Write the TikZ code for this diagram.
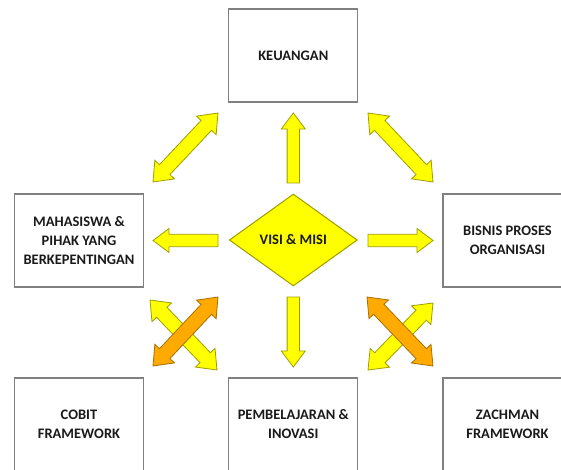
\documentclass[tikz,border=0pt]{standalone}
\usepackage{fontspec}
\setmainfont{Carlito}
\usetikzlibrary{calc,shapes.geometric}
\definecolor{ayellow}{HTML}{FFFF00}
\definecolor{ayedge}{HTML}{9E9E00}
\definecolor{aorange}{HTML}{FFAA00}
\definecolor{aoedge}{HTML}{A87000}
\definecolor{boxedge}{HTML}{808080}
\definecolor{txt}{HTML}{1A1A1A}
\tikzset{
  infobox/.style={draw=boxedge, line width=1.2pt, fill=white, minimum width=129pt, minimum height=93pt,
    inner sep=0pt, align=center, text=txt, font=\bfseries\fontsize{14.5}{19}\selectfont},
  visibox/.style={diamond, draw=ayedge, line width=1pt, fill=ayellow, minimum width=128pt, minimum height=92pt,
    inner sep=0pt, aspect=1.39, text=txt, font=\bfseries\fontsize{14.5}{19}\selectfont},
  yarrow/.style={fill=ayellow, draw=ayedge, line width=0.8pt, line join=miter},
  oarrow/.style={fill=aorange, draw=aoedge, line width=0.8pt, line join=miter},
}
\def\bw{6.2}
\def\bhw{12}
\def\bh{16}
\newcommand\getdir[2]{\path let \p1=($(#2)-(#1)$) in
  \pgfextra{\pgfmathsetmacro\tmpa{atan2(\y1,\x1)}\pgfmathsetmacro\tmpl{veclen(\x1,\y1)}\xdef\baang{\tmpa}\xdef\balen{\tmpl}};}
\newcommand\singlearrow[3]{\getdir{#2}{#3}%
  \begin{scope}[shift={(#2)},rotate=\baang]
  \filldraw[#1] (0,-\bw) -- (\balen-\bh,-\bw) -- (\balen-\bh,-\bhw) -- (\balen,0) -- (\balen-\bh,\bhw) -- (\balen-\bh,\bw) -- (0,\bw) -- cycle;
  \end{scope}}
\newcommand\doublearrow[3]{\getdir{#2}{#3}%
  \begin{scope}[shift={(#2)},rotate=\baang]
  \filldraw[#1] (0,0) -- (\bh,\bhw) -- (\bh,\bw) -- (\balen-\bh,\bw) -- (\balen-\bh,\bhw) -- (\balen,0) -- (\balen-\bh,-\bhw) -- (\balen-\bh,-\bw) -- (\bh,-\bw) -- (\bh,-\bhw) -- cycle;
  \end{scope}}
\begin{document}
\begin{tikzpicture}[x=1pt,y=1pt]
\useasboundingbox (0,0) rectangle (561,469);
\clip (0,0) rectangle (561,469);
\fill[white] (0,0) rectangle (561,469);
% boxes
\node[infobox] (keu) at (293.3,413.5) {KEUANGAN};
\node[infobox] (mhs) at (79,228.5) {MAHASISWA \&\\PIHAK YANG\\BERKEPENTINGAN};
\node[infobox] (bis) at (507.5,228.5) {BISNIS PROSES\\ORGANISASI};
\node[infobox] (cob) at (79,44.5) {COBIT\\FRAMEWORK};
\node[infobox] (pem) at (293.3,44.5) {PEMBELAJARAN \&\\INOVASI};
\node[infobox] (zac) at (507.5,44.5) {ZACHMAN\\FRAMEWORK};
\node[visibox] (visi) at (293.3,229) {VISI \& MISI};
% arrow end points
\coordinate (upA) at (293.3,286);  \coordinate (upB) at (293.3,356);
\coordinate (dnA) at (293.3,172);  \coordinate (dnB) at (293.3,102);
\coordinate (lfA) at (218,228.5);  \coordinate (lfB) at (153,228.5);
\coordinate (rtA) at (368,228.5);  \coordinate (rtB) at (433,228.5);
\coordinate (tlA) at (153,287);    \coordinate (tlB) at (218,356);
\coordinate (trA) at (368,356);    \coordinate (trB) at (433,287);
\coordinate (blyA) at (150,169);   \coordinate (blyB) at (217,99);
\coordinate (bloA) at (153,103);   \coordinate (bloB) at (218,172);
\coordinate (broA) at (367,172);   \coordinate (broB) at (433,103);
\coordinate (bryA) at (368,99);    \coordinate (bryB) at (433,166);
% straight arrows
\singlearrow{yarrow}{upA}{upB}
\singlearrow{yarrow}{dnA}{dnB}
\singlearrow{yarrow}{lfA}{lfB}
\singlearrow{yarrow}{rtA}{rtB}
% diagonal arrows: wider
\def\bw{7.2}
\def\bhw{13.5}
\def\bh{17}
\doublearrow{yarrow}{tlA}{tlB}
\doublearrow{yarrow}{trA}{trB}
\doublearrow{yarrow}{blyA}{blyB}
\doublearrow{oarrow}{bloA}{bloB}
\doublearrow{yarrow}{bryA}{bryB}
\doublearrow{oarrow}{broA}{broB}
\end{tikzpicture}
\end{document}
